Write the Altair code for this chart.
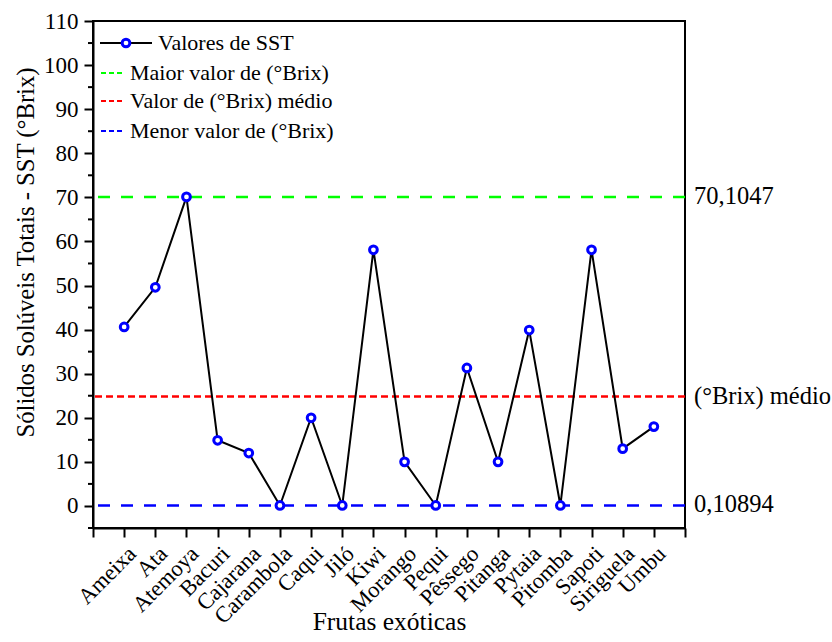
import altair as alt
import pandas as pd

fruits = ["Ameixa", "Ata", "Atemoya", "Bacuri", "Cajarana", "Carambola", "Caqui",
          "Jiló", "Kiwi", "Morango", "Pequi", "Pêssego", "Pitanga", "Pytaia",
          "Pitomba", "Sapoti", "Siriguela", "Umbu"]
sst = [40.6, 49.6, 70.1047, 14.9, 12.0, 0.10894, 20.0, 0.10894, 58.1, 10.0,
       0.10894, 31.3, 10.0, 39.9, 0.10894, 58.1, 13.0, 18.0]

ref_values = [70.1047, 24.8, 0.10894]
ref_labels = ["70,1047", "(°Brix) médio", "0,10894"]
ref_colors = ["#00ff00", "#ff0000", "#0000ff"]
ref_dashes = [[12, 11], [7, 4], [12, 11]]
legend_labels = ["Valores de SST", "Maior valor de (°Brix)",
                 "Valor de (°Brix) médio", "Menor valor de (°Brix)"]
y_major = list(range(0, 111, 10))
y_minor = list(range(-5, 110, 10))

FONT = "Liberation Serif"
W, H = 592, 507

df = pd.DataFrame({"idx": list(range(1, len(fruits) + 1)), "fruta": fruits, "sst": sst})

label_arr = "[" + ",".join(["''"] + ["'" + f + "'" for f in fruits] + ["''"]) + "]"

x_enc = alt.X("idx:Q",
              scale=alt.Scale(domain=[0, len(fruits) + 1], nice=False, zero=False),
              axis=alt.Axis(values=list(range(0, len(fruits) + 2)), tickCount=40,
                            labelExpr=label_arr + "[datum.value]",
                            title="Frutas exóticas", grid=False,
                            labelAngle=-45, labelAlign="right", labelBaseline="top",
                            labelPadding=5, tickSize=9, tickWidth=2, tickColor="black",
                            domainColor="black", domainWidth=2,
                            labelFont=FONT, labelFontSize=22.5, labelColor="black",
                            titleFont=FONT, titleFontSize=25.5, titleFontWeight="normal",
                            titleColor="black", titleX=W / 2, titleY=101,
                            titleBaseline="alphabetic", titleAlign="center",
                            labelOverlap=False, labelBound=False, labelFlush=False))

y_enc = alt.Y("sst:Q",
              scale=alt.Scale(domain=[-5, 110], nice=False, zero=False),
              axis=alt.Axis(values=y_major, tickCount=40,
                            title="Sólidos Solúveis Totais - SST (°Brix)", grid=False,
                            tickSize=9, tickWidth=2, tickColor="black",
                            domainColor="black", domainWidth=2, labelPadding=6,
                            labelFont=FONT, labelFontSize=23, labelColor="black",
                            labelBaseline="middle",
                            titleFont=FONT, titleFontSize=24.7, titleFontWeight="normal",
                            titleColor="black", titleAngle=-90, titleX=-60, titleY=231,
                            titleBaseline="alphabetic", titleAlign="center",
                            labelOverlap=False, labelFlush=False))

base = alt.Chart(df)

line = base.mark_line(color="black", strokeWidth=2).encode(x=x_enc, y=y_enc)
points = base.mark_point(shape="circle", filled=True, fill="white", stroke="#0000ff",
                         strokeWidth=3, size=60, opacity=1).encode(x="idx:Q", y="sst:Q")

minor = alt.Chart(alt.Data(values=[{"m": m} for m in y_minor])).mark_rule(
    color="black", strokeWidth=2).encode(
    x=alt.value(-5), x2=alt.value(0), y="m:Q")

ref_layers = []
for v, lab, col, dash in zip(ref_values, ref_labels, ref_colors, ref_dashes):
    d = alt.Data(values=[{"v": v, "lab": lab}])
    ref_layers.append(alt.Chart(d).mark_rule(color=col, strokeWidth=2.5, strokeDash=dash)
                      .encode(y="v:Q"))
    ref_layers.append(alt.Chart(d).mark_text(align="left", baseline="middle", dx=9,
                                             font=FONT, fontSize=24.5, color="black")
                      .encode(x=alt.datum(len(fruits) + 1), y="v:Q", text="lab:N"))

# manual legend (inside the plot, top-left)
one = alt.Data(values=[{"a": 1}])
leg = []
leg_rows_y = [22, 52, 80, 110]
leg.append(alt.Chart(one).mark_rule(color="black", strokeWidth=2)
           .encode(x=alt.value(7), x2=alt.value(59), y=alt.value(leg_rows_y[0])))
leg.append(alt.Chart(one).mark_point(shape="circle", filled=True, fill="white", stroke="#0000ff",
                                     strokeWidth=3, size=60, opacity=1)
           .encode(x=alt.value(33), y=alt.value(leg_rows_y[0])))
leg.append(alt.Chart(one).mark_text(align="left", baseline="middle", font=FONT, fontSize=22,
                                    color="black", text=legend_labels[0])
           .encode(x=alt.value(65), y=alt.value(leg_rows_y[0])))
for i in range(3):
    leg.append(alt.Chart(one).mark_rule(color=ref_colors[i], strokeWidth=2, strokeDash=[5, 3])
               .encode(x=alt.value(8), x2=alt.value(30), y=alt.value(leg_rows_y[i + 1])))
    leg.append(alt.Chart(one).mark_text(align="left", baseline="middle", font=FONT, fontSize=22,
                                        color="black", text=legend_labels[i + 1])
               .encode(x=alt.value(37), y=alt.value(leg_rows_y[i + 1])))

chart = alt.layer(*ref_layers, line, points, minor, *leg).properties(
    width=W, height=H,
    padding={"left": 93, "top": 21, "right": 832 - 93 - W, "bottom": 642 - 21 - H},
    autosize=alt.AutoSizeParams(type="none"),
    background="white",
).configure_view(stroke="black", strokeWidth=2)

chart.save("out.html", embed_options={"renderer": "svg", "actions": False})
